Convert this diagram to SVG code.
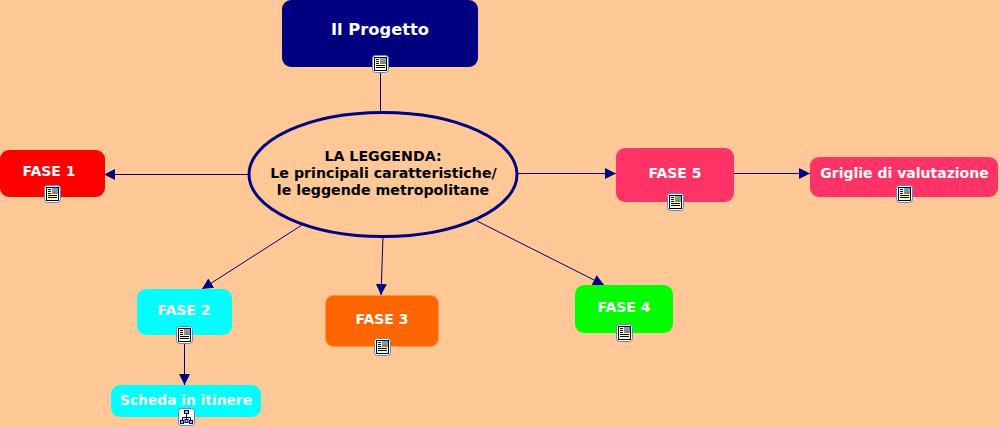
<svg xmlns="http://www.w3.org/2000/svg" width="999" height="428" viewBox="0 0 999 428">
<style>
.t{font-family:"DejaVu Sans",Verdana,sans-serif;font-weight:700;font-size:14px;text-anchor:middle;fill:#fff}
.k{fill:#000;font-size:14.200px}
.c{stroke:#000080;stroke-width:1;fill:none}
</style>
<defs>
<marker id="a" markerUnits="userSpaceOnUse" markerWidth="12" markerHeight="12" refX="11" refY="6" orient="auto"><path d="M0 .5L11 6L0 11.500z" fill="#000080"/></marker>
<g id="doc">
<rect x="-7.500" y="-8.500" width="16" height="17" rx="3" fill="#fff" stroke="#5c88c8"/>
<rect x="-5.500" y="-6.500" width="12" height="13" fill="#ffffd0" stroke="#000"/>
<rect x="0" y="-6" width="6" height="6" fill="#6fa0c8"/>
<path d="M0 0l2.500-3.500 3.500 3.500z" fill="#b07040"/>
<path d="M-4-4.500h3M-4-2.500h3M-4-.5h3M-4 1.500h9M-4 3.500h9" stroke="#000" stroke-width="1"/>
</g>
<g id="map">
<rect x="-7.500" y="-8.500" width="16" height="17" rx="3" fill="#fff" stroke="#5c88c8"/>
<path d="M.5-4V2M-3.500 3V.5H4.500V3" stroke="#000060" fill="none"/>
<rect x="-1.500" y="-6.500" width="4" height="3" fill="#a0b8e8" stroke="#000060"/>
<rect x="-5.500" y="3.500" width="3" height="3" fill="#a0b8e8" stroke="#000060"/>
<rect x="3.500" y="3.500" width="3" height="3" fill="#a0b8e8" stroke="#000060"/>
<rect x="-1" y="2.500" width="3" height="3" fill="#a0b8e8" stroke="#000060"/>
</g>
</defs>
<rect width="999" height="428" fill="#ffc896"/>
<g id="connectors">
<path class="c" style="stroke:#000" d="M380.500 72V112"/>
<path class="c" marker-end="url(#a)" d="M249 174.500H104"/>
<path class="c" marker-end="url(#a)" d="M302 225L202 289"/>
<path class="c" marker-end="url(#a)" d="M383 237L381 295"/>
<path class="c" marker-end="url(#a)" d="M477 221L604 285"/>
<path class="c" marker-end="url(#a)" d="M517 173.500H616"/>
<path class="c" marker-end="url(#a)" d="M734 173.500H810"/>
<path class="c" marker-end="url(#a)" d="M184.500 344V385"/>
</g>
<g id="node-progetto">
<rect x="282" y="0" width="196" height="67" rx="9" fill="#000080"/>
<text class="t" x="380" y="35" style="font-size:16.300px">Il Progetto</text>
<use href="#doc" x="380" y="64"/>
</g>
<g id="node-leggenda">
<ellipse cx="383" cy="174.500" rx="134" ry="62" fill="#ffc896" stroke="#000080" stroke-width="3"/>
<text class="t k" x="383" y="161">LA LEGGENDA:</text>
<text class="t k" x="383.500" y="178">Le principali caratteristiche/</text>
<text class="t k" x="383" y="195">le leggende metropolitane</text>
</g>
<g id="node-fase1">
<rect x="0" y="150" width="105" height="47" rx="9" fill="#ff0000"/>
<text class="t" x="49" y="176">FASE 1</text>
<use href="#doc" x="52" y="194"/>
</g>
<g id="node-fase2">
<rect x="137" y="289" width="95" height="46" rx="9" fill="#00ffff"/>
<text class="t" x="184" y="315">FASE 2</text>
<use href="#doc" x="184" y="335"/>
</g>
<g id="node-scheda">
<rect x="111" y="385" width="150" height="32" rx="9" fill="#00ffff"/>
<text class="t" x="186" y="405" style="font-size:13.800px">Scheda in itinere</text>
<use href="#map" x="186" y="417"/>
</g>
<g id="node-fase3">
<rect x="325.500" y="295.500" width="113" height="51" rx="8" fill="#ff6600" stroke="#ff9a30"/>
<text class="t" x="382" y="324">FASE 3</text>
<use href="#doc" x="382" y="347"/>
</g>
<g id="node-fase4">
<rect x="575" y="285" width="98" height="48" rx="9" fill="#00ff00"/>
<text class="t" x="624" y="312">FASE 4</text>
<use href="#doc" x="624" y="333"/>
</g>
<g id="node-fase5">
<rect x="616" y="148" width="118" height="54" rx="9" fill="#ff3366"/>
<text class="t" x="675" y="178">FASE 5</text>
<use href="#doc" x="675" y="202"/>
</g>
<g id="node-griglie">
<rect x="810" y="157" width="188" height="40" rx="9" fill="#ff3366"/>
<text class="t" x="904.500" y="178">Griglie di valutazione</text>
<use href="#doc" x="904" y="194"/>
</g>
</svg>
